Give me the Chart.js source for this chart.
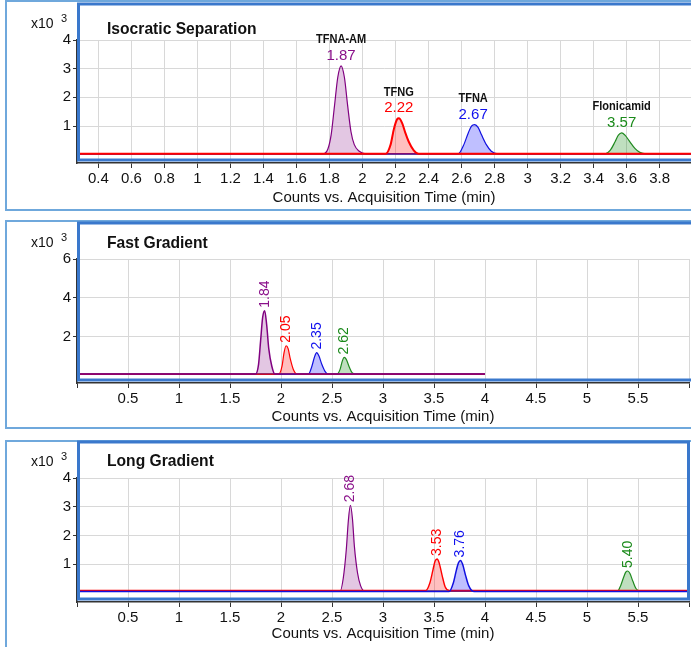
<!DOCTYPE html>
<html>
<head>
<meta charset="utf-8">
<script src="https://cdn.jsdelivr.net/npm/chart.js@4.4.0/dist/chart.umd.min.js"></script>
<style>
  body { margin: 0; background: #fff; width: 691px; height: 647px; overflow: hidden; position: relative; }
  canvas { position: absolute; left: 0; }
</style>
</head>
<body>
<canvas id="iso" width="691" height="211" style="top:0"></canvas>
<canvas id="fast" width="691" height="212" style="top:218px"></canvas>
<canvas id="long" width="691" height="209" style="top:438px"></canvas>
<script>
// ---- data (counts x10^3 vs. acquisition time, min) ----
const compounds = ['TFNA-AM', 'TFNG', 'TFNA', 'Flonicamid'];

// Isocratic separation
const isoRT = [1.87, 2.22, 2.67, 3.57];
const isoAmT = [0.27, 1.76, 1.79, 1.81, 1.83, 1.85, 1.87, 1.89, 1.91, 1.93, 1.95, 1.98, 2.02, 3.99];
const isoAmY = [0.03, 0.03, 0.2, 0.7, 1.7, 2.7, 3.1, 2.7, 1.7, 0.8, 0.35, 0.12, 0.03, 0.03];
const isoTfngT = [0.27, 2.14, 2.17, 2.19, 2.21, 2.22, 2.24, 2.26, 2.28, 2.31, 2.34, 3.99];
const isoTfngY = [0.03, 0.03, 0.35, 0.9, 1.24, 1.27, 1.1, 0.75, 0.45, 0.15, 0.03, 0.03];
const isoTfnaT = [0.27, 2.58, 2.61, 2.64, 2.66, 2.68, 2.70, 2.72, 2.75, 2.78, 2.82, 3.99];
const isoTfnaY = [0.03, 0.03, 0.3, 0.75, 1.0, 1.05, 0.95, 0.7, 0.35, 0.12, 0.03, 0.03];
const isoFlonT = [0.27, 3.47, 3.50, 3.53, 3.55, 3.57, 3.59, 3.62, 3.65, 3.68, 3.72, 3.99];
const isoFlonY = [0.03, 0.03, 0.15, 0.45, 0.68, 0.76, 0.68, 0.45, 0.22, 0.08, 0.03, 0.03];
const isoXTicks = [0.4, 0.6, 0.8, 1, 1.2, 1.4, 1.6, 1.8, 2, 2.2, 2.4, 2.6, 2.8, 3, 3.2, 3.4, 3.6, 3.8];
const isoYTicks = [1, 2, 3, 4];

// Fast gradient
const fastRT = [1.84, 2.05, 2.35, 2.62];
const fastAmT = [0.02, 1.75, 1.78, 1.80, 1.82, 1.84, 1.86, 1.88, 1.91, 1.94, 4.0];
const fastAmY = [0.1, 0.1, 0.6, 1.8, 3.0, 3.35, 2.6, 1.4, 0.5, 0.1, 0.1];
const fastTfngT = [0.02, 1.98, 2.01, 2.03, 2.05, 2.07, 2.09, 2.12, 2.16, 4.0];
const fastTfngY = [0.1, 0.1, 0.5, 1.2, 1.55, 1.4, 0.9, 0.35, 0.1, 0.1];
const fastTfnaT = [0.02, 2.27, 2.30, 2.33, 2.35, 2.37, 2.40, 2.43, 2.46, 4.0];
const fastTfnaY = [0.1, 0.1, 0.45, 1.0, 1.2, 1.05, 0.6, 0.25, 0.1, 0.1];
const fastFlonT = [0.02, 2.55, 2.58, 2.60, 2.62, 2.64, 2.67, 2.70, 2.74, 4.0];
const fastFlonY = [0.1, 0.1, 0.35, 0.75, 0.95, 0.85, 0.45, 0.15, 0.1, 0.1];
const fastYTicks = [2, 4, 6];

// Long gradient
const longRT = [2.68, 3.53, 3.76, 5.40];
const longAmT = [0.02, 2.58, 2.61, 2.64, 2.66, 2.68, 2.70, 2.72, 2.75, 2.78, 2.82, 6.0];
const longAmY = [0.06, 0.06, 0.5, 1.5, 2.5, 3.05, 2.6, 1.6, 0.7, 0.25, 0.06, 0.06];
const longTfngT = [0.02, 3.42, 3.46, 3.49, 3.51, 3.53, 3.55, 3.58, 3.61, 3.65, 6.0];
const longTfngY = [0.08, 0.08, 0.35, 0.8, 1.1, 1.18, 1.05, 0.6, 0.2, 0.08, 0.08];
const longTfnaT = [0.02, 3.65, 3.69, 3.72, 3.74, 3.76, 3.78, 3.81, 3.84, 3.89, 6.0];
const longTfnaY = [0.05, 0.05, 0.35, 0.8, 1.05, 1.13, 1.0, 0.6, 0.25, 0.05, 0.05];
const longFlonT = [0.02, 5.30, 5.33, 5.36, 5.38, 5.40, 5.42, 5.45, 5.48, 5.52, 6.0];
const longFlonY = [0.06, 0.06, 0.25, 0.55, 0.72, 0.76, 0.68, 0.4, 0.15, 0.06, 0.06];

const gradXTicks = [0, 0.5, 1, 1.5, 2, 2.5, 3, 3.5, 4, 4.5, 5, 5.5, 6];
const gradXLabels = [0.5, 1, 1.5, 2, 2.5, 3, 3.5, 4, 4.5, 5, 5.5];
const longYTicks = [1, 2, 3, 4];

// ---- styling ----
const SANS = '"Liberation Sans", Arial, sans-serif';
const peakColors = ['#800080', '#ff0000', '#1010e0', '#1f8a1f'];
const peakFills = ['rgba(128,0,128,0.22)', 'rgba(255,0,0,0.25)', 'rgba(0,0,255,0.25)', 'rgba(0,128,0,0.25)'];
const labelColors = ['#8a108a', '#ff0000', '#1010ee', '#1a8a1a'];

function pts(t, y) { return t.map((v, i) => ({ x: v, y: y[i] })); }

function ds(t, y, k, w) {
  return {
    data: pts(t, y),
    borderColor: peakColors[k],
    backgroundColor: peakFills[k],
    borderWidth: w || 1.2,
    fill: { value: y[0] },
    pointRadius: 0,
    tension: 0.4,
    cubicInterpolationMode: 'monotone'
  };
}

// condensed bold text (the original uses a condensed face)
function narrowText(ctx, txt, x, y, size, squeeze, align) {
  ctx.save();
  ctx.font = 'bold ' + size + 'px ' + SANS;
  const w = ctx.measureText(txt).width * squeeze;
  const x0 = align === 'center' ? x - w / 2 : x;
  ctx.translate(x0, y);
  ctx.scale(squeeze, 1);
  ctx.textAlign = 'left';
  ctx.textBaseline = 'middle';
  ctx.fillText(txt, 0, 0);
  ctx.restore();
}

// panel frame, title, exponent and peak labels
const panelDeco = {
  id: 'panelDeco',
  afterDraw(chart, args, o) {
    const ctx = chart.ctx, a = chart.chartArea, W = chart.width, H = chart.height;
    const xs = chart.scales.x, ys = chart.scales.y;
    ctx.save();
    // outer light frame
    ctx.strokeStyle = '#6fa8dc';
    ctx.lineWidth = 2;
    ctx.beginPath();
    ctx.moveTo(W + 2, o.outerTop); ctx.lineTo(6, o.outerTop);
    ctx.lineTo(6, o.outerBottom == null ? H + 2 : o.outerBottom);
    if (o.outerBottom != null) ctx.lineTo(W + 2, o.outerBottom);
    ctx.stroke();
    // blue plot frame
    ctx.strokeStyle = '#3a78cc';
    ctx.lineWidth = 3;
    const bw = W - a.left - 4 + (o.openRight ? 10 : 0);
    ctx.strokeRect(a.left + 1.5, a.top - 36, bw, a.bottom - 3 - (a.top - 36));
    // title
    ctx.fillStyle = '#111';
    narrowText(ctx, o.title, 107, a.top + o.titleDy, 17, 0.92, 'left');
    // x10^3
    ctx.font = '14px ' + SANS;
    ctx.textBaseline = 'middle';
    ctx.textAlign = 'left';
    ctx.fillText('x10', 31, a.top - 16);
    ctx.font = '11px ' + SANS;
    ctx.fillText('3', 61, a.top - 21);
    // peak labels
    o.peaks.forEach((p, k) => {
      const px = xs.getPixelForValue(p.rt);
      const py = ys.getPixelForValue(Math.max(...p.y));
      ctx.fillStyle = labelColors[k];
      if (o.rotated) {
        ctx.save();
        ctx.translate(px, py - 3);
        ctx.rotate(-Math.PI / 2);
        ctx.font = '14px ' + SANS;
        ctx.textAlign = 'left';
        ctx.textBaseline = 'middle';
        ctx.fillText(p.rt.toFixed(2), 0, 0);
        ctx.restore();
      } else {
        ctx.textAlign = 'center';
        ctx.textBaseline = 'middle';
        ctx.font = '15px ' + SANS;
        ctx.fillText(p.rt.toFixed(2), px, py - 10);
        ctx.fillStyle = '#111';
        narrowText(ctx, compounds[k], px, py - 26, 12, 0.92, 'center');
      }
    });
    ctx.restore();
  }
};

function makeChart(id, cfg) {
  new Chart(document.getElementById(id), {
    type: 'line',
    data: { datasets: cfg.datasets },
    options: {
      responsive: false,
      animation: false,
      events: [],
      layout: { padding: { left: 6, top: cfg.top, right: 0, bottom: 0 } },
      plugins: {
        legend: { display: false },
        tooltip: { enabled: false },
        panelDeco: cfg.deco
      },
      scales: {
        x: {
          type: 'linear',
          min: cfg.xMin, max: cfg.xMax,
          afterBuildTicks: s => { s.ticks = cfg.xTicks.map(v => ({ value: v })); },
          afterFit: s => { s.height = cfg.xHeight; },
          grid: { color: '#d8d8d8', lineWidth: 1, tickColor: '#333', tickLength: 5 },
          border: { color: '#333', width: 1.5 },
          ticks: {
            color: '#111', font: { family: SANS, size: 15 }, padding: 2,
            maxRotation: 0, autoSkip: false,
            callback: v => cfg.xLabels.includes(v) ? String(v) : ''
          },
          title: {
            display: true, text: 'Counts vs. Acquisition Time (min)',
            color: '#111', font: { family: SANS, size: 15 }, padding: { top: 0, bottom: 4 }
          }
        },
        y: {
          min: cfg.yMin, max: cfg.yMax,
          afterBuildTicks: s => { s.ticks = cfg.yTicks.map(v => ({ value: v })); },
          afterFit: s => { s.width = 71; },
          grid: { color: '#d8d8d8', lineWidth: 1, tickColor: '#333', tickLength: 4 },
          border: { color: '#333', width: 1.5 },
          ticks: { color: '#111', font: { family: SANS, size: 15 }, padding: 2 }
        }
      }
    },
    plugins: [panelDeco]
  });
}

makeChart('iso', {
  top: 40, xMin: 0.27, xMax: 3.99, yMin: -0.29, yMax: 4, xHeight: 48,
  xTicks: isoXTicks, xLabels: isoXTicks, yTicks: isoYTicks,
  datasets: [ds(isoTfngT, isoTfngY, 1, 2), ds(isoAmT, isoAmY, 0), ds(isoTfnaT, isoTfnaY, 2), ds(isoFlonT, isoFlonY, 3)],
  deco: {
    title: 'Isocratic Separation', titleDy: -11, outerTop: 1, outerBottom: 210, rotated: false, openRight: true,
    peaks: [{ rt: isoRT[0], y: isoAmY }, { rt: isoRT[1], y: isoTfngY }, { rt: isoRT[2], y: isoTfnaY }, { rt: isoRT[3], y: isoFlonY }]
  }
});

makeChart('fast', {
  top: 41, xMin: 0, xMax: 6, yMin: -0.36, yMax: 6, xHeight: 47,
  xTicks: gradXTicks, xLabels: gradXLabels, yTicks: fastYTicks,
  datasets: [ds(fastAmT, fastAmY, 0, 1.5), ds(fastTfngT, fastTfngY, 1), ds(fastTfnaT, fastTfnaY, 2), ds(fastFlonT, fastFlonY, 3)],
  deco: {
    title: 'Fast Gradient', titleDy: -16, outerTop: 3, outerBottom: 210, rotated: true, openRight: true,
    peaks: [{ rt: fastRT[0], y: fastAmY }, { rt: fastRT[1], y: fastTfngY }, { rt: fastRT[2], y: fastTfnaY }, { rt: fastRT[3], y: fastFlonY }]
  }
});

makeChart('long', {
  top: 40, xMin: 0, xMax: 6, yMin: -0.32, yMax: 4, xHeight: 45,
  xTicks: gradXTicks, xLabels: gradXLabels, yTicks: longYTicks,
  datasets: [ds(longTfnaT, longTfnaY, 2, 1.5), ds(longTfngT, longTfngY, 1, 1.4), ds(longAmT, longAmY, 0), ds(longFlonT, longFlonY, 3)],
  deco: {
    title: 'Long Gradient', titleDy: -17, outerTop: 3, outerBottom: null, rotated: true, openRight: false,
    peaks: [{ rt: longRT[0], y: longAmY }, { rt: longRT[1], y: longTfngY }, { rt: longRT[2], y: longTfnaY }, { rt: longRT[3], y: longFlonY }]
  }
});
</script>
</body>
</html>
